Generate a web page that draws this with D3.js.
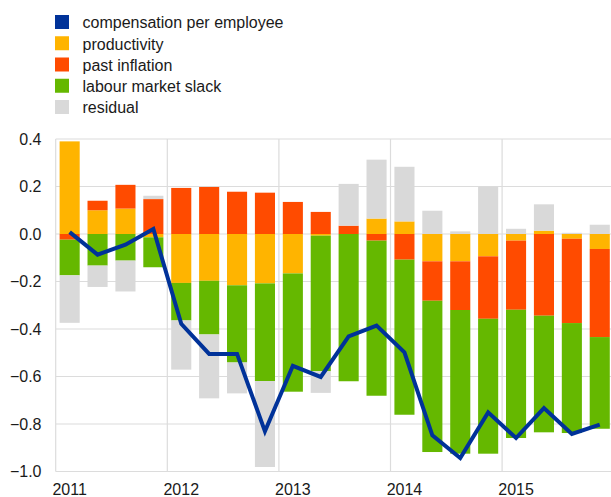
<!DOCTYPE html>
<html>
<head>
<meta charset="utf-8">
<script src="https://cdn.jsdelivr.net/npm/d3@7"></script>
<style>
    body { margin: 0; background: #fff; }
    text { font-family: "Liberation Sans", Arial, sans-serif; fill: #1a1a1a; }
</style>
</head>
<body>
<script>
const quarters = ['2011Q1', '2011Q2', '2011Q3', '2011Q4', '2012Q1', '2012Q2', '2012Q3', '2012Q4',
    '2013Q1', '2013Q2', '2013Q3', '2013Q4', '2014Q1', '2014Q2', '2014Q3', '2014Q4',
    '2015Q1', '2015Q2', '2015Q3', '2015Q4'];
const years = ['2011', '2012', '2013', '2014', '2015'];

const productivity = [0.39, 0.10, 0.107, -0.014, -0.206, -0.197, -0.216, -0.208, -0.166, -0.007,
    0.0, 0.065, 0.053, -0.115, -0.115, -0.094, -0.028, 0.014, -0.02, -0.063];
const pastInflation = [-0.024, 0.04, 0.10, 0.147, 0.194, 0.198, 0.178, 0.174, 0.135, 0.093,
    0.035, -0.028, -0.108, -0.166, -0.205, -0.263, -0.291, -0.344, -0.355, -0.371];
const labourSlack = [-0.15, -0.133, -0.112, -0.126, -0.158, -0.226, -0.325, -0.411, -0.498, -0.571,
    -0.62, -0.653, -0.653, -0.637, -0.605, -0.568, -0.54, -0.491, -0.463, -0.386];
const residual = [-0.20, -0.09, -0.13, 0.014, -0.207, -0.269, -0.13, -0.362, 0.0, -0.091,
    0.176, 0.248, 0.23, 0.098, 0.011, 0.198, 0.022, 0.111, 0.005, 0.039];
const compensation = [0.008, -0.087, -0.045, 0.021, -0.378, -0.505, -0.505, -0.831, -0.555, -0.602,
    -0.431, -0.386, -0.498, -0.848, -0.943, -0.751, -0.859, -0.733, -0.842, -0.803];

const yTicks = [0.4, 0.2, 0.0, -0.2, -0.4, -0.6, -0.8, -1.0];

const seriesKeys = ['productivity', 'past inflation', 'labour market slack', 'residual'];
const legendNames = ['compensation per employee', 'productivity', 'past inflation', 'labour market slack', 'residual'];
const colors = {
    'compensation per employee': '#003299',
    'productivity': '#ffb400',
    'past inflation': '#ff4b00',
    'labour market slack': '#65b800',
    'residual': '#d9d9d9'
};

const width = 611;
const height = 497;
const margin = { top: 139, left: 55.7, bottom: 25.5, right: -2.7 };

const svg = d3.select('body')
    .append('svg')
    .attr('width', width)
    .attr('height', height);

const scaleX = d3.scaleBand()
    .domain(quarters)
    .range([margin.left, width - margin.right])
    .paddingInner(0.28)
    .paddingOuter(0.14);
const scaleY = d3.scaleLinear()
    .domain([-1.0, 0.4])
    .range([height - margin.bottom, margin.top]);

const rows = quarters.map((q, i) => ({
    quarter: q,
    'productivity': productivity[i],
    'past inflation': pastInflation[i],
    'labour market slack': labourSlack[i],
    'residual': residual[i]
}));

const stacked = d3.stack()
    .keys(seriesKeys)
    .offset(d3.stackOffsetDiverging)(rows);

// grid
const grid = svg.append('g').attr('stroke', '#dcdcdc').attr('stroke-width', 1.2);
grid.selectAll('line.h')
    .data(yTicks)
    .enter()
    .append('line')
    .attr('x1', margin.left)
    .attr('x2', width)
    .attr('y1', (d) => scaleY(d))
    .attr('y2', (d) => scaleY(d));

const yearStep = scaleX.step() * 4;
grid.selectAll('line.v')
    .data(years)
    .enter()
    .append('line')
    .attr('x1', (d, i) => margin.left + i * yearStep)
    .attr('x2', (d, i) => margin.left + i * yearStep)
    .attr('y1', scaleY(0.4))
    .attr('y2', scaleY(-1.0));

// bars
svg.append('g')
    .selectAll('g')
    .data(stacked)
    .enter()
    .append('g')
    .attr('fill', (s) => colors[s.key])
    .selectAll('rect')
    .data((s) => s)
    .enter()
    .append('rect')
    .attr('x', (d) => scaleX(d.data.quarter))
    .attr('width', scaleX.bandwidth())
    .attr('y', (d) => scaleY(Math.max(d[0], d[1])))
    .attr('height', (d) => Math.abs(scaleY(d[0]) - scaleY(d[1])));

// line
const line = d3.line()
    .x((d, i) => scaleX(quarters[i]) + scaleX.bandwidth() / 2)
    .y((d) => scaleY(d));

svg.append('path')
    .datum(compensation)
    .attr('d', line)
    .attr('fill', 'none')
    .attr('stroke', colors['compensation per employee'])
    .attr('stroke-width', 4)
    .attr('stroke-linejoin', 'miter');

// y labels
svg.append('g')
    .selectAll('text')
    .data(yTicks)
    .enter()
    .append('text')
    .attr('x', 41.5)
    .attr('y', (d) => scaleY(d))
    .attr('dy', '0.36em')
    .attr('text-anchor', 'end')
    .attr('font-size', 16)
    .text((d) => d3.format('.1f')(d));

// x labels
svg.append('g')
    .selectAll('text')
    .data(years)
    .enter()
    .append('text')
    .attr('x', (d) => scaleX(d + 'Q1') + scaleX.bandwidth() / 2)
    .attr('y', 494.5)
    .attr('text-anchor', 'middle')
    .attr('font-size', 16)
    .text((d) => d);

// legend
const legend = svg.append('g')
    .selectAll('g')
    .data(legendNames)
    .enter()
    .append('g')
    .attr('transform', (d, i) => `translate(55, ${15 + i * 21.25})`);

legend.append('rect')
    .attr('width', 14)
    .attr('height', 14)
    .attr('fill', (d) => colors[d]);

legend.append('text')
    .attr('x', 27.5)
    .attr('y', 13.3)
    .attr('font-size', 16)
    .text((d) => d);
</script>
</body>
</html>
